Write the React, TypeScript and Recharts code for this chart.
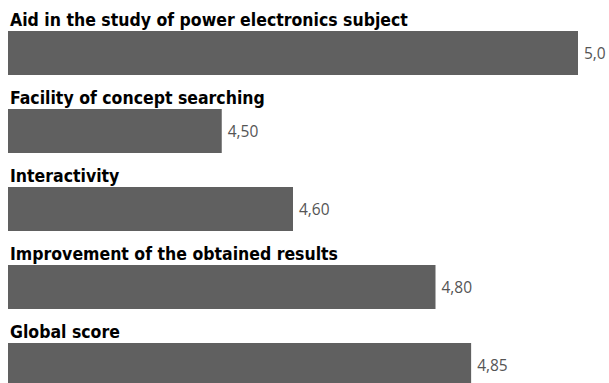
import React from 'react';
import { BarChart, Bar, XAxis, YAxis, LabelList } from 'recharts';

// Survey items, shown top to bottom
const categories = [
  'Aid in the study of power electronics subject',
  'Facility of concept searching',
  'Interactivity',
  'Improvement of the obtained results',
  'Global score',
];

// Mean scores for each item
const scores = [5.0, 4.5, 4.6, 4.8, 4.85];

// Value labels as printed next to each bar (decimal comma)
const scoreLabels = ['5,0', '4,50', '4,60', '4,80', '4,85'];

const data = categories.map((name, i) => ({
  name,
  score: scores[i],
  label: scoreLabels[i],
}));

const BAR_COLOR = '#606060';
const TITLE_FONT = "'DejaVu Sans Condensed', 'Liberation Sans', sans-serif";
const VALUE_FONT = "'Open Sans', 'Noto Sans', sans-serif";

const renderTitle = (props: any) => {
  const { x, y, value } = props;
  return (
    <text
      x={Number(x) + 2}
      y={Number(y) - 5.5}
      fill="#000"
      fontFamily={TITLE_FONT}
      fontWeight={700}
      fontSize={17.5}
    >
      {value}
    </text>
  );
};

const renderValue = (props: any) => {
  const { x, y, width, height, value } = props;
  return (
    <text
      x={Number(x) + Number(width) + 6}
      y={Number(y) + Number(height) / 2 + 5.5}
      fill="#555"
      fontFamily={VALUE_FONT}
      fontSize={15.5}
    >
      {value}
    </text>
  );
};

export default function App() {
  return (
    <div
      style={{
        position: 'fixed',
        left: 0,
        top: 0,
        width: 609,
        height: 383,
        overflow: 'hidden',
        background: '#fff',
      }}
    >
      <BarChart
        width={609}
        height={404}
        data={data}
        layout="vertical"
        margin={{ top: 14, right: 31, bottom: 0, left: 8 }}
        barCategoryGap={0}
      >
        <XAxis type="number" domain={[4.2, 5.0]} hide allowDataOverflow />
        <YAxis type="category" dataKey="name" hide />
        <Bar dataKey="score" fill={BAR_COLOR} barSize={44} isAnimationActive={false}>
          <LabelList dataKey="name" content={renderTitle} />
          <LabelList dataKey="label" content={renderValue} />
        </Bar>
      </BarChart>
    </div>
  );
}
